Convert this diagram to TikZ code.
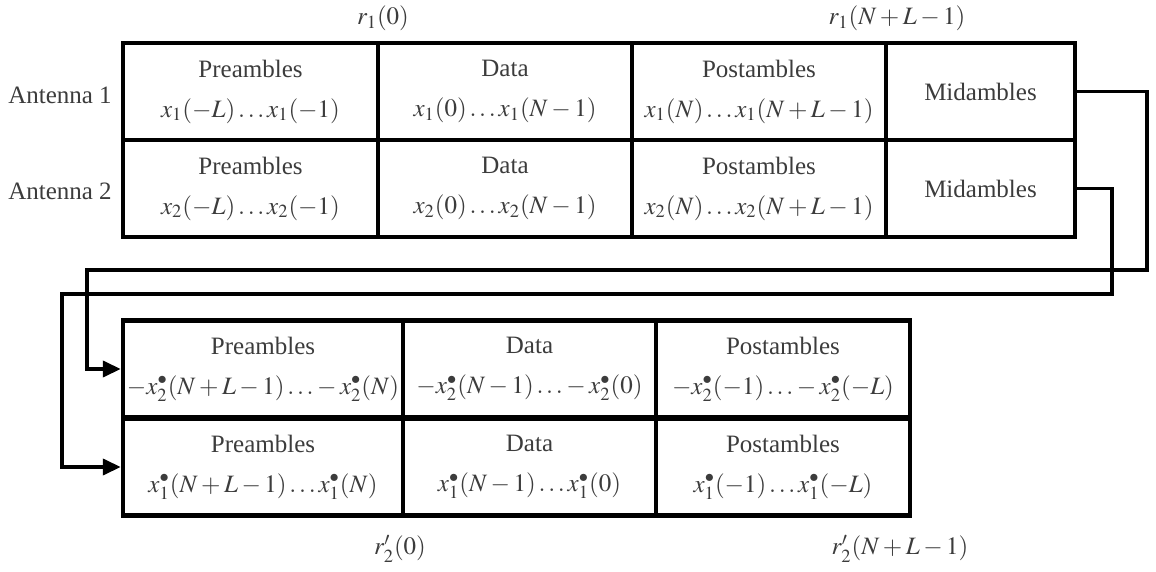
\documentclass[tikz,border=0pt]{standalone}
\usepackage{mathptmx}
\usepackage{fontspec}
\setmainfont{Liberation Serif}
\usetikzlibrary{arrows.meta}
\definecolor{inkGray}{HTML}{3C3C3C}
\tikzset{
    cell/.style={draw=black,line width=2.2pt,inner sep=0pt,align=center,
        minimum height=48.5pt,text=inkGray,font=\fontsize{12.5}{15}\selectfont},
    tag/.style={inner sep=0pt,text=inkGray,font=\fontsize{12.5}{15}\selectfont},
    link/.style={draw=black,line width=1.9pt,-{Triangle[length=9pt,width=8pt]}}
}
\newcommand{\cellrows}[2]{#1\\[5pt]#2}

\begin{document}
\begin{tikzpicture}[x=0.5pt,y=-0.5pt]
    \useasboundingbox (0,0) rectangle (1156,572);
    % antenna frames
    \node[cell,minimum width=127.5pt] (preone) at (250.5,91.5)
        {\cellrows{Preambles}{$x_1(-L)\ldots x_1(-1)$}};
    \node[cell,minimum width=127pt] (dataone) at (505,91.5)
        {\cellrows{Data}{$x_1(0)\ldots x_1(N-1)$}};
    \node[cell,minimum width=127pt] (postone) at (759,91.5)
        {\cellrows{Postambles}{$x_1(N)\ldots x_1(N+L-1)$}};
    \node[cell,minimum width=94.5pt] (midone) at (980.5,91.5) {Midambles};
    \node[cell,minimum width=127.5pt] (pretwo) at (250.5,188.5)
        {\cellrows{Preambles}{$x_2(-L)\ldots x_2(-1)$}};
    \node[cell,minimum width=127pt] (datatwo) at (505,188.5)
        {\cellrows{Data}{$x_2(0)\ldots x_2(N-1)$}};
    \node[cell,minimum width=127pt] (posttwo) at (759,188.5)
        {\cellrows{Postambles}{$x_2(N)\ldots x_2(N+L-1)$}};
    \node[cell,minimum width=94.5pt] (midtwo) at (980.5,188.5) {Midambles};
    % conjugated frames
    \node[cell,minimum width=140pt] (bpreone) at (263,369)
        {\cellrows{Preambles}{$-x_2^{\bullet}(N+L-1)\ldots -x_2^{\bullet}(N)$}};
    \node[cell,minimum width=126.5pt] (bdataone) at (529.5,369)
        {\cellrows{Data}{$-x_2^{\bullet}(N-1)\ldots -x_2^{\bullet}(0)$}};
    \node[cell,minimum width=127pt] (bpostone) at (783,369)
        {\cellrows{Postambles}{$-x_2^{\bullet}(-1)\ldots -x_2^{\bullet}(-L)$}};
    \node[cell,minimum width=140pt] (bpretwo) at (263,467)
        {\cellrows{Preambles}{$x_1^{\bullet}(N+L-1)\ldots x_1^{\bullet}(N)$}};
    \node[cell,minimum width=126.5pt] (bdatatwo) at (529.5,467)
        {\cellrows{Data}{$x_1^{\bullet}(N-1)\ldots x_1^{\bullet}(0)$}};
    \node[cell,minimum width=127pt] (bposttwo) at (783,467)
        {\cellrows{Postambles}{$x_1^{\bullet}(-1)\ldots x_1^{\bullet}(-L)$}};
    % labels
    \node[tag] (antone) at (60,95) {Antenna 1};
    \node[tag] (anttwo) at (60,191) {Antenna 2};
    \node[tag] (rstart) at (383,18) {$r_1(0)$};
    \node[tag] (rend) at (897,18) {$r_1(N+L-1)$};
    \node[tag] (rpstart) at (400,549) {$r'_2(0)$};
    \node[tag] (rpend) at (900,549) {$r'_2(N+L-1)$};
    % feedback paths
    \coordinate (turnone) at (1147,270);
    \coordinate (backone) at (87,270);
    \coordinate (turntwo) at (1112,294);
    \coordinate (backtwo) at (62,294);
    \draw[link] (midone.east) -| (turnone) -- (backone) |- (bpreone.west);
    \draw[link] (midtwo.east) -| (turntwo) -- (backtwo) |- (bpretwo.west);
\end{tikzpicture}
\end{document}
